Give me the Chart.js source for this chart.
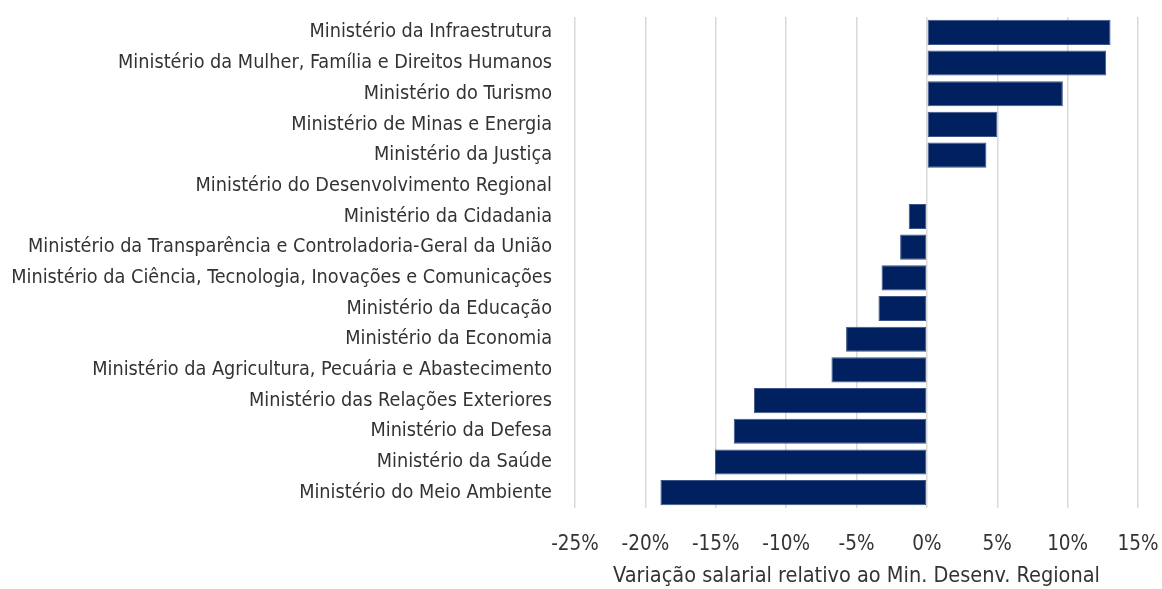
<!DOCTYPE html>
<html><head><meta charset="utf-8">
<script src="https://cdn.jsdelivr.net/npm/chart.js@4"></script>
<style>html,body{margin:0;padding:0;background:#fff}#wrap{width:1162px;height:589px}</style>
</head><body><div id="wrap"><canvas id="c" width="1162" height="589"></canvas></div>
<script>
const categories = [
  "Ministério da Infraestrutura",
  "Ministério da Mulher, Família e Direitos Humanos",
  "Ministério do Turismo",
  "Ministério de Minas e Energia",
  "Ministério da Justiça",
  "Ministério do Desenvolvimento Regional",
  "Ministério da Cidadania",
  "Ministério da Transparência e Controladoria-Geral da União",
  "Ministério da Ciência, Tecnologia, Inovações e Comunicações",
  "Ministério da Educação",
  "Ministério da Economia",
  "Ministério da Agricultura, Pecuária e Abastecimento",
  "Ministério das Relações Exteriores",
  "Ministério da Defesa",
  "Ministério da Saúde",
  "Ministério do Meio Ambiente"
];
const variation = [13.05, 12.74, 9.66, 5.0, 4.23, 0, -1.29, -1.9, -3.22, -3.44, -5.74, -6.78, -12.29, -13.72, -15.06, -18.93];
const xMin = -25, xMax = 15, xStep = 5;
const axisTitle = "Variação salarial relativo ao Min. Desenv. Regional";

const FONT = "'Liberation Sans Narrow', 'DejaVu Sans Condensed', sans-serif";
const TEXT = '#333333';

new Chart(document.getElementById('c'), {
  type: 'bar',
  data: {
    labels: categories,
    datasets: [{
      data: variation,
      backgroundColor: '#002060',
      borderColor: '#3c5488',
      borderWidth: 1,
      borderSkipped: false,
      barPercentage: 0.82,
      categoryPercentage: 1.0
    }]
  },
  options: {
    indexAxis: 'y',
    responsive: false,
    animation: false,
    devicePixelRatio: 1,
    layout: { padding: { top: 17, right: 0, left: 0, bottom: 0 } },
    plugins: { legend: { display: false }, tooltip: { enabled: false } },
    scales: {
      x: {
        min: xMin, max: xMax,
        ticks: { stepSize: xStep, color: TEXT, font: { family: FONT, size: 20.5 }, padding: 24,
                 maxRotation: 0, minRotation: 0, callback: v => v + '%' },
        grid: { color: '#d9d9d9', lineWidth: 1.5, drawTicks: false },
        border: { display: false },
        title: { display: true, text: axisTitle, color: TEXT, font: { family: FONT, size: 21.5 }, padding: { top: 8, bottom: 0 } },
        afterFit: s => { s.height = 81; s.paddingRight = 24; s.paddingLeft = 0; }
      },
      y: {
        ticks: { color: TEXT, font: { family: FONT, size: 19.7 }, padding: 0, autoSkip: false },
        grid: { display: true, drawOnChartArea: false, drawTicks: true, tickLength: 23, tickColor: 'rgba(0,0,0,0)' },
        border: { display: false },
        afterFit: s => { s.width = 575; }
      }
    }
  }
});
</script></body></html>
